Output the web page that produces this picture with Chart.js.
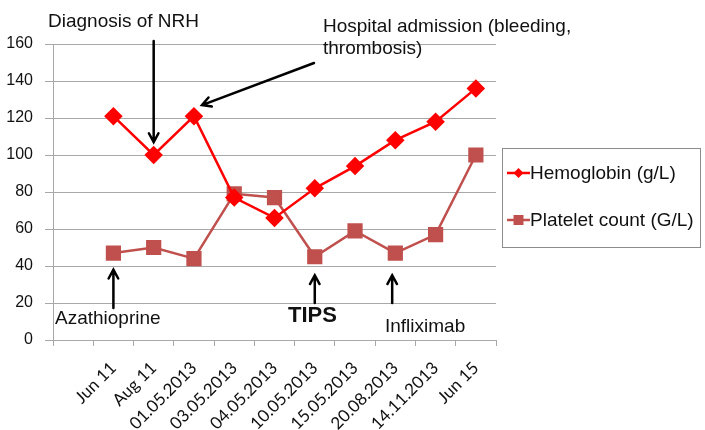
<!DOCTYPE html>
<html>
<head>
<meta charset="utf-8">
<script src="https://cdn.jsdelivr.net/npm/chart.js@4"></script>
<style>
html,body{margin:0;padding:0;background:#fff;}
#wrap{width:705px;height:430px;position:relative;}
</style>
</head>
<body>
<div id="wrap"><canvas id="c" width="705" height="430"></canvas></div>
<script>
const categories = ["", "Jun 11", "Aug 11", "01.05.2013", "03.05.2013", "04.05.2013", "10.05.2013", "15.05.2013", "20.08.2013", "14.11.2013", "Jun 15"];
const hemoglobin = [null, 121, 100, 121, 77, 66, 82, 94, 108, 118, 136];
const platelets = [null, 47, 50, 44, 79, 77, 45, 59, 47, 57, 100];
const yTicks = [0, 20, 40, 60, 80, 100, 120, 140, 160];
const seriesNames = ["Hemoglobin (g/L)", "Platelet count (G/L)"];

const FONT = "'Liberation Sans', Arial, sans-serif";
const XFONT = "Lato, 'Open Sans', sans-serif";
const GRID = "#a8a8a8";

function arrow(ctx, x1, y1, x2, y2) {
  ctx.save();
  ctx.strokeStyle = "#000";
  ctx.lineWidth = 2.5;
  ctx.lineCap = "round";
  ctx.beginPath();
  ctx.moveTo(x1, y1);
  ctx.lineTo(x2, y2);
  const a = Math.atan2(y2 - y1, x2 - x1);
  const h = 10, s = 0.5;
  ctx.moveTo(x2 - h * Math.cos(a - s), y2 - h * Math.sin(a - s));
  ctx.lineTo(x2, y2);
  ctx.lineTo(x2 - h * Math.cos(a + s), y2 - h * Math.sin(a + s));
  ctx.stroke();
  ctx.restore();
}

const annotations = {
  id: "annotations",
  afterDraw(chart) {
    const ctx = chart.ctx;
    const x = chart.scales.x, y = chart.scales.y;
    ctx.save();
    ctx.fillStyle = "#111";
    ctx.textBaseline = "alphabetic";
    ctx.font = "19px " + FONT;
    ctx.fillText("Diagnosis of NRH", 48, 27);
    ctx.fillText("Hospital admission (bleeding,", 323, 32);
    ctx.fillText("thrombosis)", 323, 54);
    ctx.fillText("Azathioprine", 55, 324);
    ctx.fillText("Infliximab", 385, 332);
    ctx.font = "bold 22px " + FONT;
    ctx.fillText("TIPS", 288, 322);
    ctx.restore();

    // Diagnosis arrow -> Aug 11
    const xa = x.getPixelForValue(2);
    arrow(ctx, xa, 41, xa, y.getPixelForValue(107));
    // Hospital admission arrow -> 01.05.2013
    arrow(ctx, 314, 63, x.getPixelForValue(3) + 8, y.getPixelForValue(127));
    // Azathioprine -> Jun 11
    const xj = x.getPixelForValue(1);
    arrow(ctx, xj, 308, xj, y.getPixelForValue(38));
    // TIPS -> 10.05.2013
    const xt = x.getPixelForValue(6);
    arrow(ctx, xt, 303, xt, y.getPixelForValue(35));
    // Infliximab -> 20.08.2013
    const xi = (x.getPixelForValue(8) + x.getPixelForValue(7)) / 2 + 17;
    arrow(ctx, xi, 303, xi, y.getPixelForValue(35));

    // Legend
    ctx.save();
    ctx.strokeStyle = "#8c8c8c";
    ctx.lineWidth = 1;
    ctx.strokeRect(502.5, 148.5, 198, 99);
    const ds = chart.data.datasets;
    const rows = [173, 220];
    ds.forEach((d, i) => {
      const ry = rows[i];
      ctx.strokeStyle = d.borderColor;
      ctx.lineWidth = 2.5;
      ctx.beginPath();
      ctx.moveTo(507, ry);
      ctx.lineTo(530, ry);
      ctx.stroke();
      ctx.fillStyle = d.backgroundColor;
      ctx.beginPath();
      if (d.pointStyle === "rectRot") {
        ctx.moveTo(518.5, ry - 5); ctx.lineTo(523.5, ry); ctx.lineTo(518.5, ry + 5); ctx.lineTo(513.5, ry);
      } else {
        ctx.rect(513.5, ry - 5, 10, 10);
      }
      ctx.closePath();
      ctx.fill();
      ctx.fillStyle = "#111";
      ctx.font = "19px " + FONT;
      ctx.textBaseline = "middle";
      ctx.fillText(d.label, 530, ry + 1);
    });
    ctx.restore();
  }
};

new Chart(document.getElementById("c"), {
  type: "line",
  data: {
    labels: categories,
    datasets: [
      {
        label: seriesNames[0],
        data: hemoglobin,
        borderColor: "#ff0000",
        backgroundColor: "#ff0000",
        borderWidth: 2.5,
        pointStyle: "rectRot",
        pointRadius: 7.5,
        pointHoverRadius: 7.5,
        tension: 0
      },
      {
        label: seriesNames[1],
        data: platelets,
        borderColor: "#c0504d",
        backgroundColor: "#c0504d",
        borderWidth: 2.5,
        pointStyle: "rect",
        pointRadius: 9,
        pointHoverRadius: 9,
        tension: 0
      }
    ]
  },
  options: {
    responsive: false,
    animation: false,
    devicePixelRatio: 1,
    layout: { padding: { top: 44, right: 209, bottom: 0, left: 0 } },
    plugins: { legend: { display: false }, tooltip: { enabled: false } },
    scales: {
      x: {
        offset: true,
        grid: { offset: true, drawOnChartArea: false, drawTicks: true, tickLength: 6, color: GRID },
        border: { color: GRID, width: 1 },
        ticks: {
          minRotation: 45, maxRotation: 45, autoSkip: false,
          color: "#111", font: { family: XFONT, size: 17 }, padding: 12
        },
        afterFit(s) { s.height = 90; }
      },
      y: {
        min: 0, max: 160,
        afterBuildTicks(s) { s.ticks = yTicks.map(v => ({ value: v })); },
        grid: { color: GRID, drawTicks: true, tickLength: 8 },
        border: { color: GRID, width: 1 },
        ticks: { color: "#111", font: { family: FONT, size: 16 }, padding: 12 },
        afterFit(s) { s.width = 53; }
      }
    }
  },
  plugins: [annotations]
});
</script>
</body>
</html>
